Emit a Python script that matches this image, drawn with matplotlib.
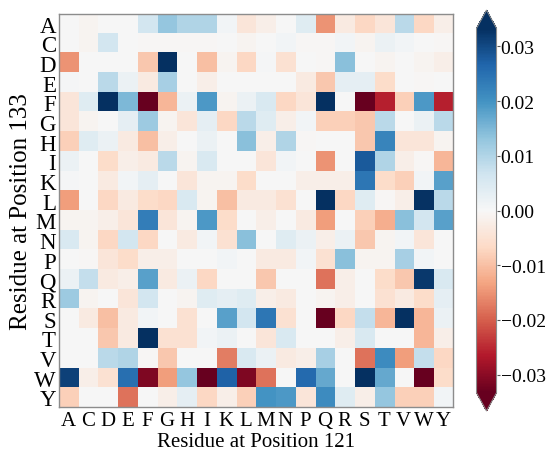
import numpy as np
import matplotlib
matplotlib.use("Agg")
import matplotlib.pyplot as plt

plt.rcParams['font.family'] = ['Liberation Serif', 'DejaVu Serif']

# Amino acid labels (positions 121 on x, 133 on y)
residues = ['A', 'C', 'D', 'E', 'F', 'G', 'H', 'I', 'K', 'L',
            'M', 'N', 'P', 'Q', 'R', 'S', 'T', 'V', 'W', 'Y']

# Epistasis values, one list per row (position 133)
row_A = [0.000, -0.001, 0.000, 0.000, 0.006, 0.013, 0.010, 0.010, 0.001, -0.004,
         -0.002, 0.000, 0.004, -0.015, -0.003, -0.007, -0.004, 0.009, -0.007, -0.002]
row_C = [0.000, -0.001, 0.006, 0.000, -0.0005, -0.0005, -0.0005, -0.0005, 0.000, -0.001,
         0.000, 0.001, -0.0005, -0.0005, 0.001, -0.001, 0.002, 0.001, 0.000, -0.0005]
row_D = [-0.015, 0.000, 0.000, 0.000, -0.009, 0.035, 0.000, -0.010, -0.001, -0.007,
         0.0005, -0.005, 0.000, -0.0005, 0.014, 0.000, -0.001, 0.000, -0.001, -0.002]
row_E = [0.0005, 0.000, 0.009, 0.002, -0.003, 0.011, 0.000, -0.002, 0.000, 0.000,
         0.000, 0.000, -0.003, -0.009, 0.003, 0.003, -0.006, 0.000, -0.0005, 0.000]
row_F = [-0.004, 0.004, 0.034, 0.015, -0.035, -0.011, 0.002, 0.019, -0.001, 0.002,
         0.005, -0.007, -0.004, 0.034, 0.000, -0.035, -0.026, -0.008, 0.019, -0.026]
row_G = [-0.004, -0.001, 0.000, 0.003, 0.012, -0.001, -0.004, 0.003, -0.007, 0.009,
         0.004, -0.002, 0.001, -0.008, -0.008, -0.009, 0.009, 0.000, 0.002, 0.009]
row_H = [-0.008, 0.004, 0.002, -0.003, -0.010, -0.002, 0.000, 0.002, 0.000, 0.014,
         -0.002, 0.010, -0.0005, 0.000, 0.000, -0.009, 0.022, -0.004, -0.004, -0.001]
row_I = [0.002, 0.000, -0.006, -0.002, -0.003, 0.009, -0.001, 0.005, 0.000, 0.000,
         -0.004, 0.001, 0.000, -0.015, 0.000, 0.028, 0.010, -0.002, -0.0005, -0.011]
row_K = [0.0005, 0.000, -0.003, 0.001, 0.003, 0.000, -0.004, -0.001, -0.001, -0.006,
         0.000, 0.000, -0.002, -0.002, -0.002, 0.024, -0.006, -0.008, 0.001, 0.018]
row_L = [-0.014, 0.000, -0.007, -0.003, -0.006, -0.007, 0.005, -0.001, -0.010, -0.003,
         -0.003, -0.005, 0.000, 0.034, -0.007, 0.004, -0.0005, -0.002, 0.033, 0.009]
row_M = [-0.001, -0.001, -0.002, -0.004, 0.023, -0.004, -0.001, 0.019, -0.006, 0.000,
         -0.002, 0.000, -0.003, -0.014, 0.000, -0.008, -0.012, 0.014, 0.006, 0.018]
row_N = [0.005, -0.001, -0.007, 0.006, -0.007, 0.000, -0.003, 0.001, -0.005, 0.014,
         0.000, 0.004, 0.002, -0.002, 0.002, -0.009, -0.001, 0.001, -0.004, 0.000]
row_P = [0.000, -0.0005, -0.004, -0.006, -0.002, -0.002, 0.000, 0.000, 0.001, 0.000,
         -0.003, -0.003, 0.001, -0.005, 0.014, -0.001, -0.001, 0.011, 0.001, 0.000]
row_Q = [0.002, 0.008, -0.003, -0.002, 0.018, -0.003, 0.002, -0.007, 0.000, 0.000,
         -0.009, 0.000, 0.000, -0.018, -0.002, 0.000, -0.006, -0.009, 0.032, 0.005]
row_R = [0.012, -0.001, 0.000, -0.004, 0.006, 0.000, -0.001, 0.004, 0.003, 0.004,
         -0.002, -0.003, 0.000, -0.001, -0.002, 0.000, -0.005, -0.003, -0.006, 0.003]
row_S = [0.000, -0.003, -0.010, -0.003, 0.001, 0.000, -0.005, 0.000, 0.018, 0.006,
         0.024, -0.005, 0.000, -0.035, -0.007, 0.008, -0.011, 0.034, -0.011, 0.002]
row_T = [0.000, 0.000, -0.009, -0.003, 0.034, -0.005, -0.005, 0.001, 0.002, 0.000,
         -0.004, 0.005, 0.000, 0.000, -0.002, 0.005, 0.000, 0.000, -0.011, -0.002]
row_V = [0.000, 0.000, 0.009, 0.010, -0.0005, -0.009, 0.000, 0.000, -0.017, 0.005,
         0.002, -0.003, -0.002, 0.011, 0.000, -0.018, 0.021, -0.014, 0.008, -0.007]
row_W = [0.031, -0.002, -0.005, 0.025, -0.031, -0.014, 0.013, -0.035, 0.027, -0.031,
         -0.018, 0.000, 0.026, 0.017, 0.000, 0.034, 0.017, 0.000, -0.035, -0.006]
row_Y = [-0.008, 0.000, 0.000, -0.018, 0.000, -0.002, 0.003, -0.007, -0.002, -0.008,
         0.020, 0.019, -0.004, 0.021, 0.004, -0.002, 0.013, -0.008, -0.008, 0.001]

values = np.array([row_A, row_C, row_D, row_E, row_F, row_G, row_H, row_I, row_K, row_L,
                   row_M, row_N, row_P, row_Q, row_R, row_S, row_T, row_V, row_W, row_Y])

vlim = 0.0333
cbar_ticks = [-0.03, -0.02, -0.01, 0.0, 0.01, 0.02, 0.03]

fig = plt.figure(figsize=(5.49, 4.52), dpi=100)
ax = fig.add_axes([0.107, 0.097, 0.718, 0.870])
cax = fig.add_axes([0.868, 0.0885, 0.0364, 0.887])

im = ax.imshow(values, cmap='RdBu', vmin=-vlim, vmax=vlim, aspect='auto',
               interpolation='nearest')

ax.set_xticks(range(len(residues)))
ax.set_xticklabels(residues, fontsize=15)
ax.set_yticks(range(len(residues)))
ax.set_yticklabels(residues, fontsize=16.5)
ax.tick_params(axis='x', length=0, pad=3)
ax.tick_params(axis='y', length=0, pad=2)
for s in ax.spines.values():
    s.set_color('#8c8c8c')
    s.set_linewidth(1.0)

ax.set_xlabel('Residue at Position 121', fontsize=15, labelpad=1)
ax.set_ylabel('Residue at Position 133', fontsize=18, labelpad=2)

cbar = fig.colorbar(im, cax=cax, extend='both', ticks=cbar_ticks)
cbar.ax.tick_params(labelsize=14, length=2, width=0.8, pad=1, color='#555555')
cbar.ax.set_yticklabels([f'{t:.2f}'.replace('-', '\u2212') for t in cbar_ticks])
cbar.outline.set_edgecolor('#8c8c8c')
cbar.outline.set_linewidth(0.8)

fig.savefig('out.png', dpi=100)
